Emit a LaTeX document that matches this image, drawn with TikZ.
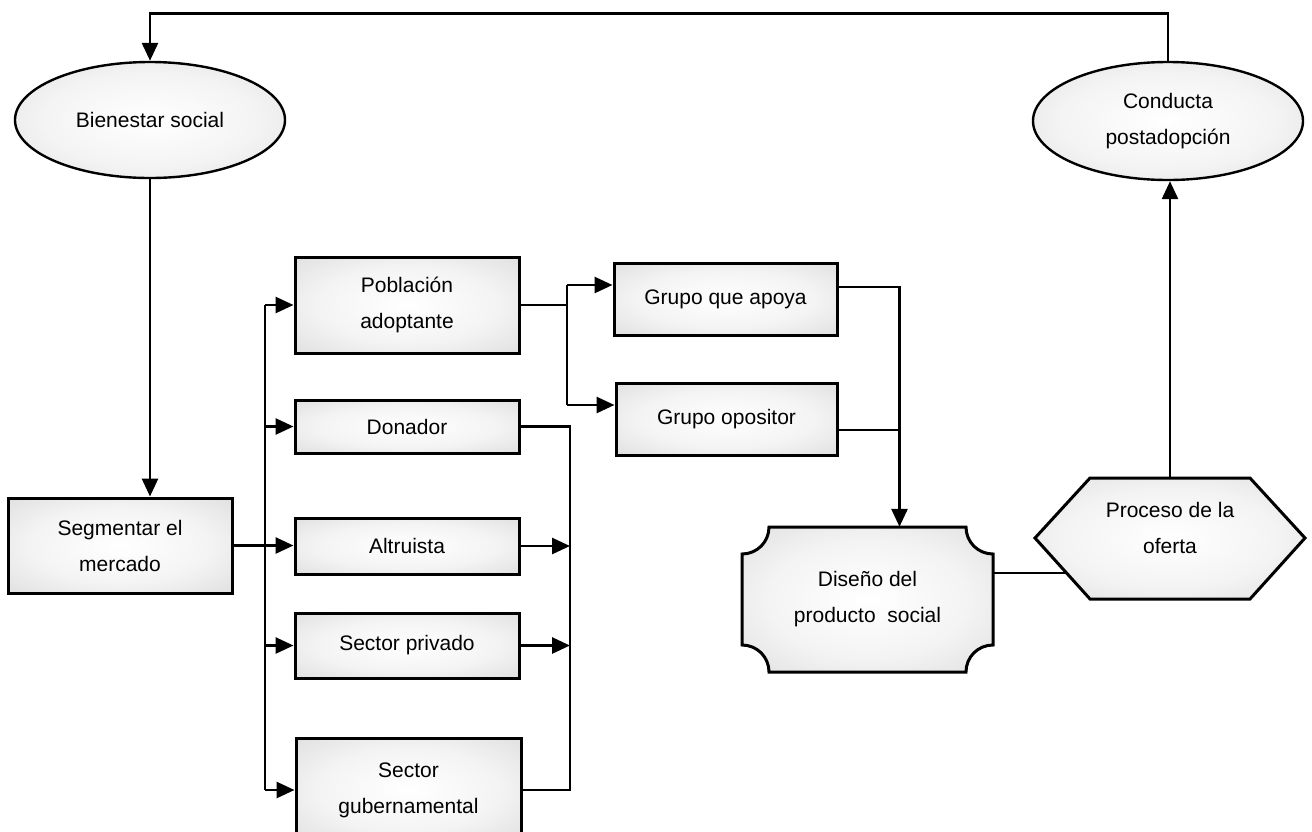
\documentclass[tikz,border=0pt]{standalone}
\usepackage{fontspec}
\setmainfont{Liberation Sans}
\usetikzlibrary{arrows.meta,backgrounds,calc,shapes.geometric}

% stippled grey fill: light in the middle, darker towards the edges
\pgfdeclareradialshading{speckle}{\pgfpoint{0bp}{0bp}}{%
  color(0bp)=(white); color(20bp)=(gray!9); color(50bp)=(gray!38); color(72bp)=(gray!45)}

\begin{document}
\begin{tikzpicture}[x=1pt,y=-1pt,
  line/.style={line width=2.8pt},
  arr/.style={line, -{Triangle[length=18pt,width=16pt]}},
  txt/.style={align=center, inner sep=0pt, font=\fontsize{21}{36}\selectfont},
  box/.style={txt, rectangle, draw, line width=3pt, shade, shading=speckle},
  oval/.style={txt, ellipse, draw, line width=2.4pt, shade, shading=speckle},
  outline/.style={draw, line width=3pt, shade, shading=speckle}]
\useasboundingbox (0,0) rectangle (1312,831);

% ellipses
\node[oval, minimum width=270, minimum height=116] (bien) at (150,120) {Bienestar social};
\node[oval, minimum width=270, minimum height=118] (cond) at (1168,121) {Conducta\\postadopción};

% boxes
\node[box, minimum width=224, minimum height=95] (seg) at (120,545.5) {Segmentar el\\mercado};
\node[box, minimum width=224, minimum height=96] (pob) at (407,305) {Población\\adoptante};
\node[box, minimum width=224, minimum height=53] (don) at (407,426.5) {Donador};
\node[box, minimum width=224, minimum height=56] (alt) at (407,546) {Altruista};
\node[box, minimum width=224, minimum height=65] (priv) at (407,645.5) {Sector privado};
\node[box, minimum width=225, minimum height=104] (gub) at (408.5,790) {Sector\\gubernamental};
\node[box, minimum width=223, minimum height=72] (apoya) at (725.5,299) {Grupo que apoya};
\node[box, minimum width=221, minimum height=72] (opos) at (726.5,419) {Grupo opositor};

% plaque with concave corners
\node[txt, minimum width=251, minimum height=145] (dis) at (867.5,599.5) {Diseño del\\producto\ \ social};
\begin{scope}[on background layer, shift={(dis.center)}]
  \path[outline] (-98.5,-72.5) -- (98.5,-72.5)
    .. controls (98.5,-57.5) and (110.5,-45.5) .. (125.5,-45.5) -- (125.5,45.5)
    .. controls (110.5,45.5) and (98.5,57.5) .. (98.5,72.5) -- (-98.5,72.5)
    .. controls (-98.5,57.5) and (-110.5,45.5) .. (-125.5,45.5) -- (-125.5,-45.5)
    .. controls (-110.5,-45.5) and (-98.5,-57.5) .. (-98.5,-72.5) -- cycle;
\end{scope}

% hexagon
\node[txt, minimum width=270, minimum height=100] (hex) at (1170,528) {Proceso de la\\oferta};
\begin{scope}[on background layer, shift={(hex.center)}]
  \path[outline] (-135,10) -- (-80,-50) -- (80,-50) -- (135,10) -- (80,71) -- (-80,71) -- cycle;
\end{scope}

% connector end points
\coordinate (lbtop) at (265,305);
\coordinate (lbbot) at (265,790);
\coordinate (rbbot) at (570,790);
\coordinate (mbtop) at (567,285);
\coordinate (mbbot) at (567,405);
\coordinate (dtop) at ($(dis.north)+(32,0)$);
\coordinate (hexin) at (1066,573);

% feedback loop along the top
\draw[arr] (cond.north) -- ++(0,-47) -| (bien.north);
\draw[arr] (bien.south) -- (bien.south |- seg.north);

% segmentation into the five groups
\draw[arr] (seg.east) -- (seg.east -| alt.west);
\draw[line] (lbtop) -- (lbbot);
\draw[arr] (lbtop) -- (pob.west);
\draw[arr] (lbtop |- don.west) -- (don.west);
\draw[arr] (lbtop |- priv.west) -- (priv.west);
\draw[arr] (lbbot) -- (gub.west);

% right-hand collector
\draw[line] (don.east) -| (rbbot) -- (gub.east);
\draw[arr] (alt.east) -- (alt.east -| rbbot);
\draw[arr] (priv.east) -- (priv.east -| rbbot);

% adopting population splits into the two groups
\draw[line] (pob.east) -- (pob.east -| mbtop);
\draw[line] (mbtop) -- (mbbot);
\draw[arr] (mbtop) -- (mbtop -| apoya.west);
\draw[arr] (mbbot) -- (mbbot -| opos.west);

% groups feed the product design
\draw[arr] ([yshift=12pt]apoya.east) -| (dtop);
\draw[line] ([yshift=-11pt]opos.east) -- ([yshift=-11pt]opos.east -| dtop);

% design, offer, post-adoption behaviour
\draw[line] ([yshift=26.5pt]dis.east) -- (hexin);
\draw[arr] (hex.north) -- (hex.north |- cond.south);
\end{tikzpicture}
\end{document}
